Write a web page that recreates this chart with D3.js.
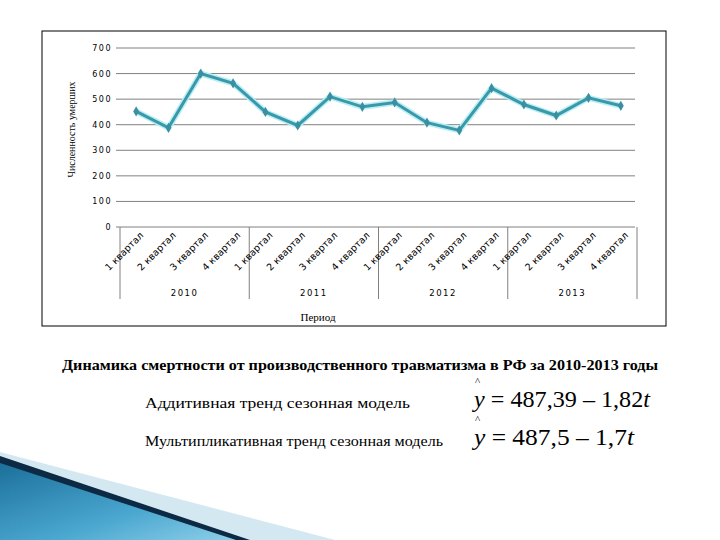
<!DOCTYPE html>
<html><head><meta charset="utf-8">
<script src="https://cdn.jsdelivr.net/npm/d3@7"></script>
<style>body{margin:0;background:#fff}</style></head>
<body><svg id="c" width="720" height="540"></svg>
<script>
const years = ["2010","2011","2012","2013"];
const quarters = ["1 квартал","2 квартал","3 квартал","4 квартал"];
const values = [452,388,600,562, 450,397,510,470, 487,408,378,543, 479,436,505,474];
const yTicks = [0,100,200,300,400,500,600,700];

const svg = d3.select("#c");
const defs = svg.append("defs");
const g1 = defs.append("linearGradient").attr("id","gb").attr("x1","0").attr("y1","0").attr("x2","1").attr("y2","1");
g1.append("stop").attr("offset","0").attr("stop-color","#1b6f9a");
g1.append("stop").attr("offset","0.6").attr("stop-color","#4aa7cf");
g1.append("stop").attr("offset","1").attr("stop-color","#8fd0ea");
svg.append("path").attr("d","M0,452 L335,540 L0,540 Z").attr("fill","#d4e8f2");
svg.append("path").attr("d","M0,462 L240,540 L0,540 Z").attr("fill","url(#gb)");
svg.append("path").attr("d","M0,456 L250,540 L236,540 L0,463 Z").attr("fill","#0d2a45");

svg.append("rect").attr("x",42).attr("y",31).attr("width",624).attr("height",295)
  .attr("fill","#fff").attr("stroke","#000").attr("stroke-width",1);

const L=120,R=637,T=48,B=227;
const y = d3.scaleLinear().domain([0,700]).range([B,T]);
const x = d3.scaleBand().domain(d3.range(values.length)).range([L,R]);
const xy = d3.scaleBand().domain(years).range([L,R]);

svg.append("g").selectAll("line").data(yTicks).join("line")
  .attr("x1",L-4).attr("x2",R-2).attr("y1",d=>y(d)).attr("y2",d=>y(d))
  .attr("stroke","#808080").attr("stroke-width",1);
svg.append("g").selectAll("text").data(yTicks).join("text")
  .attr("x",L-8).attr("y",d=>y(d)+3).attr("text-anchor","end")
  .attr("font-family","DejaVu Sans").attr("font-size",8).attr("letter-spacing",1.5).text(d=>d);

const seps = years.map(yy=>xy(yy)).concat([R]);
svg.append("g").selectAll("line").data(seps).join("line")
  .attr("x1",d=>d).attr("x2",d=>d).attr("y1",B).attr("y2",B+72).attr("stroke","#808080");
svg.append("g").selectAll("text").data(years).join("text")
  .attr("x",d=>xy(d)+xy.bandwidth()/2).attr("y",B+69).attr("text-anchor","middle")
  .attr("font-family","DejaVu Sans").attr("font-size",8.5).attr("letter-spacing",1.5).text(d=>d);
svg.append("g").selectAll("text").data(values).join("text")
  .attr("transform",(d,i)=>`translate(${x(i)+x.bandwidth()/2+8},${B+9}) rotate(-45)`)
  .attr("text-anchor","end").attr("font-family","DejaVu Sans").attr("font-size",9.5)
  .text((d,i)=>quarters[i%4]);

const line = d3.line().x((d,i)=>x(i)+x.bandwidth()/2).y(d=>y(d));
svg.append("path").datum(values).attr("d",line).attr("fill","none").attr("stroke","#b8eef5").attr("stroke-width",6);
svg.append("path").datum(values).attr("d",line).attr("fill","none").attr("stroke","#3a98a8").attr("stroke-width",3);
svg.append("g").selectAll("path").data(values).join("path")
  .attr("d",d3.symbol(d3.symbolDiamond,30))
  .attr("transform",(d,i)=>`translate(${x(i)+x.bandwidth()/2},${y(d)})`).attr("fill","#3a8fa0");

svg.append("text").attr("transform",`translate(75,${(T+B)/2-8}) rotate(-90)`).attr("text-anchor","middle")
  .attr("font-family","Liberation Serif").attr("font-size",10).text("Численность умерших");
svg.append("text").attr("x",318).attr("y",321).attr("text-anchor","middle")
  .attr("font-family","Liberation Serif").attr("font-size",11).text("Период");

svg.append("text").attr("x",62).attr("y",370).attr("textLength",596).attr("lengthAdjust","spacingAndGlyphs")
  .attr("font-family","Liberation Serif").attr("font-size",15.5).attr("font-weight","bold").text("Динамика смертности от производственного травматизма в РФ за 2010-2013 годы");
svg.append("text").attr("x",145).attr("y",408).attr("textLength",265).attr("lengthAdjust","spacingAndGlyphs")
  .attr("font-family","Liberation Serif").attr("font-size",15).text("Аддитивная тренд сезонная модель");
svg.append("text").attr("x",145).attr("y",446).attr("textLength",298).attr("lengthAdjust","spacingAndGlyphs")
  .attr("font-family","Liberation Serif").attr("font-size",15).text("Мультипликативная тренд сезонная модель");
const eq = [["487,39 – 1,82",407,176],["487,5 – 1,7",445,160]];
eq.forEach(([t,yy,w])=>{
  const tx = svg.append("text").attr("x",474).attr("y",yy).attr("textLength",w).attr("lengthAdjust","spacingAndGlyphs")
    .attr("font-family","Liberation Serif").attr("font-size",23);
  tx.append("tspan").attr("font-style","italic").text("y");
  tx.append("tspan").text(" = "+t);
  tx.append("tspan").attr("font-style","italic").text("t");
  svg.append("text").attr("x",475).attr("y",yy-22).attr("font-family","Liberation Serif").attr("font-size",11).text("^");
});
</script></body></html>
